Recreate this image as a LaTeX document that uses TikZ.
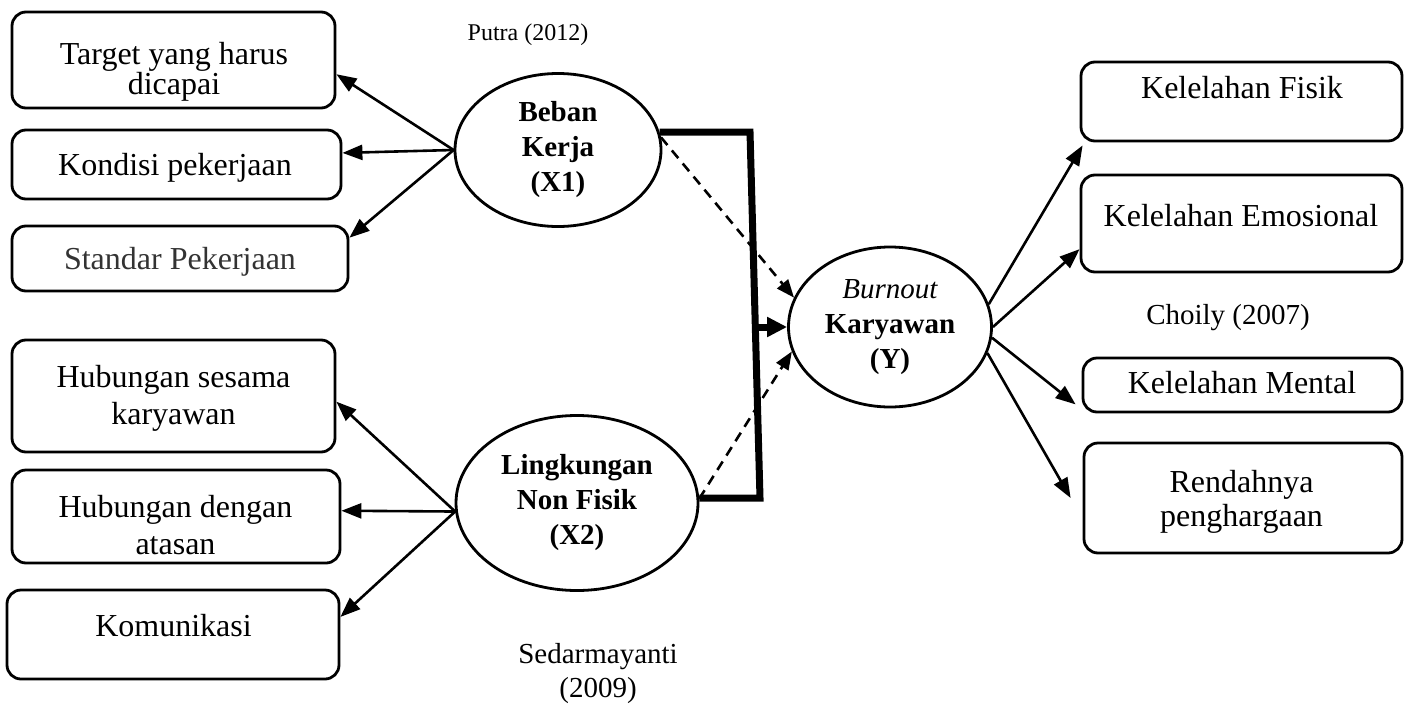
\documentclass[tikz,border=0pt]{standalone}
\usepackage{fontspec}
\setmainfont{Liberation Serif}
\usetikzlibrary{arrows.meta,shapes.geometric}
\begin{document}
\begin{tikzpicture}[x=1pt,y=-1pt,
  box/.style={draw,line width=2.8pt,rounded corners=14pt,inner sep=0pt},
  txt/.style={inner sep=0pt,align=center,font=\fontsize{32}{36}\selectfont},
  small/.style={inner sep=0pt,align=center,font=\fontsize{29}{35}\selectfont},
  var/.style={draw,ellipse,line width=2.8pt,inner sep=0pt,align=center,font=\fontsize{29}{35}\selectfont\bfseries},
  arr/.style={line width=2.6pt,-{Triangle[length=20pt,width=15pt]}},
  darr/.style={line width=2.6pt,dash pattern=on 10pt off 7pt,-{Triangle[length=18pt,width=14pt]}},
  bracket/.style={line width=7pt}]
\useasboundingbox (0,0) rectangle (1405,704);
% left boxes
\node[box,minimum width=323pt,minimum height=96pt] (b1) at (173.5,60) {};
\node[box,minimum width=329pt,minimum height=69pt] (b2) at (176.5,164.5) {};
\node[box,minimum width=336pt,minimum height=65pt] (b3) at (180,258.5) {};
\node[box,minimum width=323pt,minimum height=112pt] (b4) at (173.5,396) {};
\node[box,minimum width=328pt,minimum height=93pt] (b5) at (176,516.5) {};
\node[box,minimum width=332pt,minimum height=89pt] (b6) at (173,634.5) {};
% right boxes
\node[box,minimum width=321pt,minimum height=79pt] (r1) at (1241.5,101.5) {};
\node[box,minimum width=321pt,minimum height=97pt] (r2) at (1241.5,223.5) {};
\node[box,minimum width=319pt,minimum height=54pt] (r3) at (1242.5,385) {};
\node[box,minimum width=318pt,minimum height=110pt] (r4) at (1243,498) {};
% box texts
\node[txt,font=\fontsize{32}{30}\selectfont] (t1) at (174,72) {Target yang harus\\dicapai};
\node[txt,anchor=base] (t2) at (175,175) {Kondisi pekerjaan};
\node[txt,anchor=base,text=black!80] (t3) at (180,269) {Standar Pekerjaan};
\node[txt,font=\fontsize{32}{37}\selectfont] (t4) at (173.5,398) {Hubungan sesama\\karyawan};
\node[txt,font=\fontsize{32}{37}\selectfont] (t5) at (175.5,525) {Hubungan dengan\\atasan};
\node[txt,anchor=base] (t6) at (173.5,636) {Komunikasi};
\node[txt,anchor=base] (s1) at (1242,98) {Kelelahan Fisik};
\node[txt,anchor=base] (s2) at (1241,226) {Kelelahan Emosional};
\node[txt,anchor=base] (s3) at (1242,393) {Kelelahan Mental};
\node[txt,font=\fontsize{32}{34}\selectfont] (s4) at (1241.5,502) {Rendahnya\\penghargaan};
% source labels
\node[inner sep=0pt,anchor=base,font=\fontsize{24}{28}\selectfont] (p1) at (528,40) {Putra (2012)};
\node[small,anchor=base] (p2) at (1228,324) {Choily (2007)};
\node[small,font=\fontsize{29}{34}\selectfont] (p3) at (598,674) {Sedarmayanti\\(2009)};
% ellipses
\node[var,minimum width=206pt,minimum height=153pt] (beban) at (558,150) {\rule{0pt}{12pt}Beban\\Kerja\\(X1)};
\node[var,minimum width=242pt,minimum height=175pt] (ling) at (577,503) {Lingkungan\\Non Fisik\\(X2)};
\node[var,minimum width=203pt,minimum height=160pt] (burn) at (890,327) {{\mdseries\itshape Burnout}\\Karyawan\\(Y)};
% indicator arrows
\draw[arr] (beban.west) -- (b1.-5);
\draw[arr] (beban.west) -- (b2.4);
\draw[arr] (beban.west) -- (b3.7);
\draw[arr] (ling.184) -- (b4.-2);
\draw[arr] (ling.184) -- (b5.2);
\draw[arr] (ling.184) -- (b6.6);
\draw[arr] (burn.13) -- ([shift={(3,3)}]r1.south west);
\draw[arr] (burn.0) -- (r2.189);
\draw[arr] (burn.-6) -- ([shift={(-6,-9)}]r3.south west);
\draw[arr] (burn.-15) -- ([xshift=-12pt]r4.west);
% bracket
\coordinate (k1) at (750,132);
\coordinate (k2) at (760,498);
\coordinate (km) at (755.5,327);
\draw[bracket] (beban.10) -- (beban.10 -| k1) -- (k2) -- (k2 -| ling.east);
\draw[bracket,-{Triangle[length=20pt,width=19pt]}] (km) -- (burn.west);
% dashed partial effects
\draw[darr] (beban.7) -- (burn.163);
\draw[darr] (ling.2) -- (burn.194);
\end{tikzpicture}
\end{document}
